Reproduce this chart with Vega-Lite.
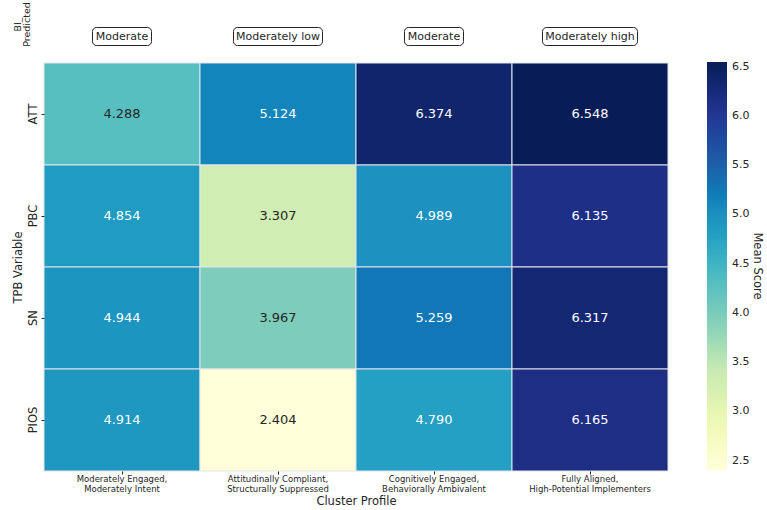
{
  "$schema": "https://vega.github.io/schema/vega-lite/v6.json",
  "background": "white",
  "padding": {"left": 12, "top": 0, "right": 5, "bottom": 0},
  "spacing": 0,
  "config": {
    "font": "DejaVu Sans",
    "view": {"stroke": null},
    "axis": {"labelColor": "#262626", "titleColor": "#262626", "titleFontWeight": "normal", "tickColor": "#262626", "domain": false}
  },
  "datasets": {
    "scores": [
      {"cluster": "Moderately Engaged, Moderately Intent", "variable": "ATT", "score": 4.288},
      {"cluster": "Attitudinally Compliant, Structurally Suppressed", "variable": "ATT", "score": 5.124},
      {"cluster": "Cognitively Engaged, Behaviorally Ambivalent", "variable": "ATT", "score": 6.374},
      {"cluster": "Fully Aligned, High-Potential Implementers", "variable": "ATT", "score": 6.548},
      {"cluster": "Moderately Engaged, Moderately Intent", "variable": "PBC", "score": 4.854},
      {"cluster": "Attitudinally Compliant, Structurally Suppressed", "variable": "PBC", "score": 3.307},
      {"cluster": "Cognitively Engaged, Behaviorally Ambivalent", "variable": "PBC", "score": 4.989},
      {"cluster": "Fully Aligned, High-Potential Implementers", "variable": "PBC", "score": 6.135},
      {"cluster": "Moderately Engaged, Moderately Intent", "variable": "SN", "score": 4.944},
      {"cluster": "Attitudinally Compliant, Structurally Suppressed", "variable": "SN", "score": 3.967},
      {"cluster": "Cognitively Engaged, Behaviorally Ambivalent", "variable": "SN", "score": 5.259},
      {"cluster": "Fully Aligned, High-Potential Implementers", "variable": "SN", "score": 6.317},
      {"cluster": "Moderately Engaged, Moderately Intent", "variable": "PIOS", "score": 4.914},
      {"cluster": "Attitudinally Compliant, Structurally Suppressed", "variable": "PIOS", "score": 2.404},
      {"cluster": "Cognitively Engaged, Behaviorally Ambivalent", "variable": "PIOS", "score": 4.79},
      {"cluster": "Fully Aligned, High-Potential Implementers", "variable": "PIOS", "score": 6.165}
    ],
    "predicted": [
      {"cluster": "Moderately Engaged, Moderately Intent", "row": "BI_Predicted", "level": "Moderate"},
      {"cluster": "Attitudinally Compliant, Structurally Suppressed", "row": "BI_Predicted", "level": "Moderately low"},
      {"cluster": "Cognitively Engaged, Behaviorally Ambivalent", "row": "BI_Predicted", "level": "Moderate"},
      {"cluster": "Fully Aligned, High-Potential Implementers", "row": "BI_Predicted", "level": "Moderately high"}
    ]
  },
  "vconcat": [
    {
      "width": 624,
      "height": 62,
      "data": {"name": "predicted"},
      "encoding": {
        "x": {"field": "cluster", "type": "nominal", "sort": null, "axis": null},
        "y": {
          "field": "row", "type": "nominal",
          "axis": {
            "labels": false, "ticks": false,
            "title": ["BI_", "Predicted"], "titleFontSize": 9.5, "titleLineHeight": 9, "titleLimit": 300,
            "titleAngle": -90, "titleAlign": "center", "titleBaseline": "middle",
            "titleX": -27, "titleY": 24
          }
        }
      },
      "layer": [
        {
          "mark": {"type": "point", "filled": true, "fill": "white", "stroke": "#262626", "strokeWidth": 1, "opacity": 1, "yOffset": 5.5},
          "encoding": {
            "size": {"value": 4},
            "shape": {
              "field": "level", "type": "nominal", "legend": null,
              "scale": {
                "domain": ["Moderate", "Moderately low", "Moderately high"],
                "range": [
                  "M-25.5,-9H25.5A4,4 0 0 1 29.5,-5V5A4,4 0 0 1 25.5,9H-25.5A4,4 0 0 1 -29.5,5V-5A4,4 0 0 1 -25.5,-9Z",
                  "M-40.5,-9H40.5A4,4 0 0 1 44.5,-5V5A4,4 0 0 1 40.5,9H-40.5A4,4 0 0 1 -44.5,5V-5A4,4 0 0 1 -40.5,-9Z",
                  "M-43.5,-9H43.5A4,4 0 0 1 47.5,-5V5A4,4 0 0 1 43.5,9H-43.5A4,4 0 0 1 -47.5,5V-5A4,4 0 0 1 -43.5,-9Z"
                ]
              }
            }
          }
        },
        {
          "mark": {"type": "text", "fontSize": 11, "color": "#262626", "yOffset": 5.5},
          "encoding": {"text": {"field": "level"}}
        }
      ]
    },
    {
      "width": 624,
      "height": 408,
      "data": {"name": "scores"},
      "encoding": {
        "x": {
          "field": "cluster", "type": "nominal", "sort": null,
          "axis": {
            "title": "Cluster Profile", "titleFontSize": 11.5, "titlePadding": 2,
            "labelAngle": 0, "labelFontSize": 8.5, "tickSize": 3, "labelPadding": 0,
            "labelExpr": "[split(datum.label, ', ')[0] + ',', split(datum.label, ', ')[1]]"
          }
        },
        "y": {
          "field": "variable", "type": "nominal", "sort": null,
          "axis": {
            "title": "TPB Variable", "titleFontSize": 11.5, "titlePadding": 4,
            "labelAngle": -90, "labelFontSize": 11.5, "tickSize": 3, "labelPadding": 3,
            "labelAlign": "center", "labelBaseline": "bottom"
          }
        }
      },
      "layer": [
        {
          "mark": {"type": "rect", "stroke": "#e3e3e8", "strokeWidth": 1},
          "encoding": {
            "color": {
              "field": "score", "type": "quantitative",
              "scale": {
                "domain": [2.404, 2.922, 3.44, 3.958, 4.476, 4.994, 5.512, 6.03, 6.548],
                "range": ["#ffffd9", "#edf8b1", "#c7e9b4", "#7fcdbb", "#41b6c4", "#1d91c0", "#225ea8", "#253494", "#081d58"]
              },
              "legend": {
                "orient": "none", "legendX": 663, "legendY": 62,
                "title": "Mean Score", "titleOrient": "right", "titleAngle": 270, "titleAnchor": "middle", "titleBaseline": "top", "titlePadding": 14,
                "titleFontSize": 11.5, "titleFontWeight": "normal", "titleColor": "#262626",
                "gradientLength": 408, "gradientThickness": 20, "gradientStrokeWidth": 0,
                "values": [2.5, 3.0, 3.5, 4.0, 4.5, 5.0, 5.5, 6.0, 6.5], "format": ".1f",
                "labelFontSize": 11, "labelColor": "#262626", "labelOffset": 5
              }
            }
          }
        },
        {
          "mark": {"type": "text", "fontSize": 13},
          "encoding": {
            "text": {"field": "score", "type": "quantitative", "format": ".3f"},
            "color": {"condition": {"test": "datum.score < 4.5", "value": "#262626"}, "value": "white"}
          }
        }
      ]
    }
  ]
}
